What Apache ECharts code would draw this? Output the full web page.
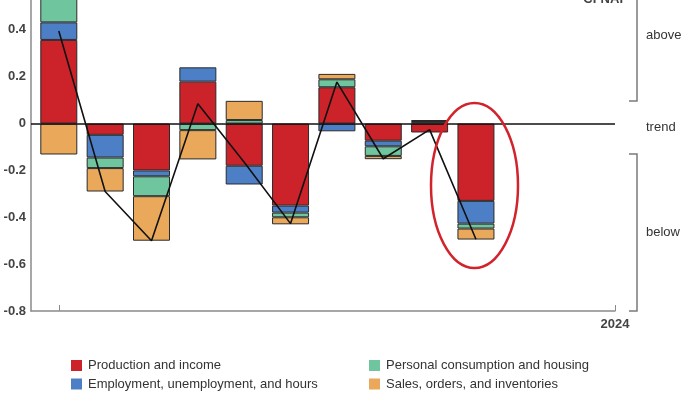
<!DOCTYPE html>
<html>
<head>
<meta charset="utf-8">
<script src="https://cdn.jsdelivr.net/npm/echarts@6/dist/echarts.min.js"></script>
<style>
html,body{margin:0;padding:0;background:#fff;}
#chart{width:700px;height:394px;}
</style>
</head>
<body>
<div id="chart"></div>
<script>
// Month positions (0 = Jan 2023 ... 9 = Oct 2023), 12 = Jan 2024
const months = [0, 1, 2, 3, 4, 5, 6, 7, 8, 9];
const seriesNames = [
  'Production and income',
  'Employment, unemployment, and hours',
  'Personal consumption and housing',
  'Sales, orders, and inventories'
];
const production  = [0.357, -0.048, -0.200,  0.179, -0.180, -0.350,  0.155, -0.073, -0.038, -0.330];
const employment  = [0.075, -0.097, -0.025,  0.061, -0.080, -0.030, -0.033, -0.024,  0.006, -0.097];
const consumption = [0.100, -0.045, -0.085, -0.028,  0.015, -0.020,  0.034, -0.041,  0.005, -0.021];
const sales       = [-0.132, -0.100, -0.190, -0.125,  0.082, -0.030,  0.023, -0.014,  0.004, -0.047];
const total       = [0.395, -0.290, -0.500,  0.085, -0.165, -0.427,  0.177, -0.150, -0.026, -0.494];
const yTicks = [-0.8, -0.6, -0.4, -0.2, 0, 0.2, 0.4];
const xTickLabels = { 12: '2024' };

const colors = ['#cc2229', '#4d7fc6', '#6fc59e', '#eaa95a'];
const FONT = 'Liberation Sans, Arial, Helvetica, sans-serif';

const chart = echarts.init(document.getElementById('chart'), null, { renderer: 'canvas' });

const comp = [production, employment, consumption, sales];
// value first so the value dimension is the stacked one; x given through encode
const barSeries = comp.map((arr, i) => ({
  name: seriesNames[i],
  type: 'bar',
  stack: 'c',
  barWidth: 37,
  data: arr.map((v, j) => [v, months[j]]),
  encode: { x: 1, y: 0 },
  itemStyle: { color: colors[i], borderColor: '#2a2a2a', borderWidth: 1 },
  emphasis: { disabled: true },
  z: 2
}));

function legendAt(name, left, top) {
  return {
    data: [name], left: left, top: top, orient: 'horizontal',
    icon: 'rect', itemWidth: 11, itemHeight: 11,
    itemStyle: { borderWidth: 0 },
    textStyle: { fontSize: 13, color: '#333', fontFamily: FONT, padding: [0, 0, 0, 1] },
    padding: 0, selectedMode: false
  };
}

const option = {
  animation: false,
  backgroundColor: '#fff',
  grid: { left: 31, right: 85, top: -17, bottom: 83, containLabel: false, outerBoundsMode: 'none' },
  legend: [
    legendAt(seriesNames[0], 71, 359),
    legendAt(seriesNames[1], 71, 377.5),
    legendAt(seriesNames[2], 369, 359),
    legendAt(seriesNames[3], 369, 377.5)
  ],
  xAxis: {
    type: 'value', min: -0.6, max: 12,
    splitLine: { show: false },
    axisLine: { show: true, onZero: false, lineStyle: { color: '#8a8a8a', width: 1.5 } },
    axisTick: { show: true, inside: true, length: 6, customValues: [0, 12], lineStyle: { color: '#8a8a8a', width: 1 } },
    axisLabel: {
      show: true, customValues: [12], margin: 7,
      formatter: v => xTickLabels[v] || '',
      fontSize: 13, fontWeight: 'bold', color: '#444', fontFamily: FONT
    }
  },
  yAxis: {
    type: 'value', min: -0.8, max: 0.6, interval: 0.2,
    splitLine: { show: false },
    axisLine: { show: true, onZero: false, lineStyle: { color: '#8a8a8a', width: 1.5 } },
    axisTick: { show: false },
    axisLabel: {
      margin: 5, fontSize: 13, fontWeight: 'bold', color: '#444', fontFamily: FONT,
      formatter: v => {
        const t = yTicks.find(k => Math.abs(k - v) < 1e-6);
        if (t === undefined) return '';
        if (Math.abs(t) < 1e-9) return '0';
        return t.toFixed(1);
      }
    }
  },
  series: barSeries.concat([{
    name: 'Total',
    type: 'line',
    data: total.map((v, j) => [months[j], v]),
    symbol: 'none',
    lineStyle: { color: '#111', width: 1.6 },
    emphasis: { disabled: true },
    z: 5,
    markLine: {
      silent: true, symbol: 'none', label: { show: false },
      lineStyle: { color: '#111', width: 1.5, type: 'solid' },
      data: [{ yAxis: 0 }],
      z: 4
    }
  }]),
  graphic: [
    // right-hand brackets
    { type: 'polyline', shape: { points: [[637, -5], [637, 101], [629, 101]] }, style: { stroke: '#7a7a7a', lineWidth: 1.5, fill: null } },
    { type: 'polyline', shape: { points: [[629, 154], [637, 154], [637, 311], [629, 311]] }, style: { stroke: '#7a7a7a', lineWidth: 1.5, fill: null } },
    { type: 'text', left: 646, top: 29, style: { text: 'above', fontSize: 13, fill: '#333', fontFamily: FONT } },
    { type: 'text', left: 646, top: 121, style: { text: 'trend', fontSize: 13, fill: '#333', fontFamily: FONT } },
    { type: 'text', left: 646, top: 226, style: { text: 'below', fontSize: 13, fill: '#333', fontFamily: FONT } },
    // cut-off title at top right
    { type: 'text', x: 623, y: -1, style: { text: 'CFNAI', align: 'right', verticalAlign: 'middle', fontSize: 13, fontWeight: 'bold', fill: '#444', fontFamily: FONT } },
    // highlight ellipse
    { type: 'ellipse', z: 100, shape: { cx: 474.5, cy: 185.5, rx: 43.5, ry: 82.5 }, style: { stroke: '#d2232c', lineWidth: 2.5, fill: null } }
  ]
};

chart.setOption(option);
</script>
</body>
</html>
